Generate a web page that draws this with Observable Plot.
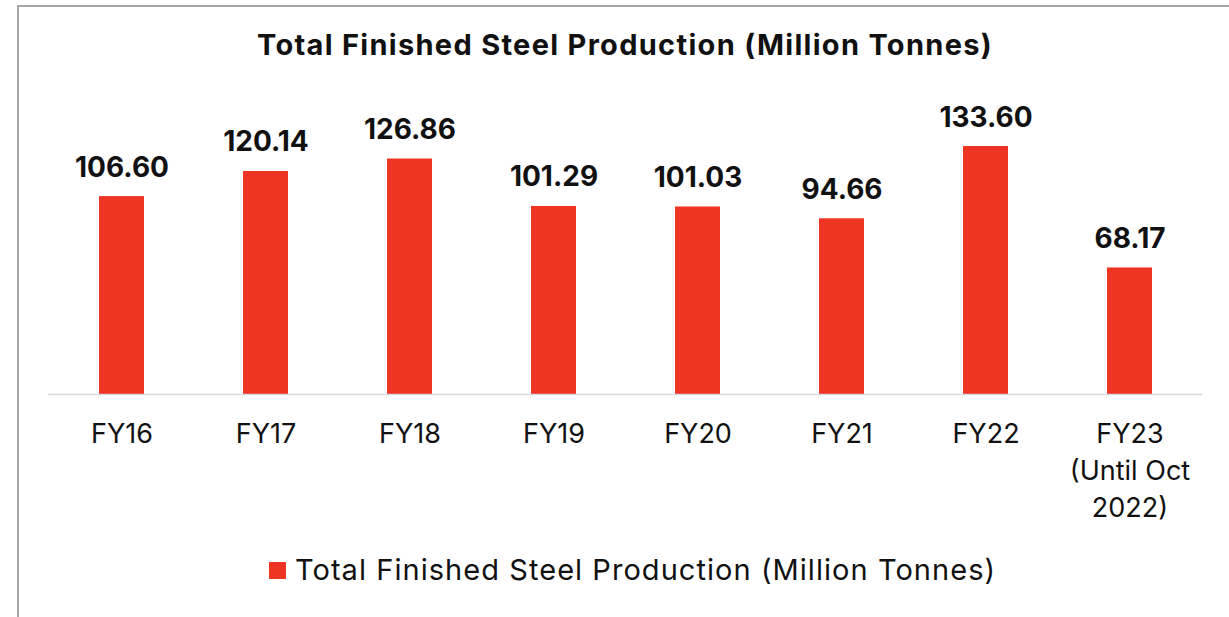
<!DOCTYPE html>
<html>
<head>
<meta charset="utf-8">
<script src="https://cdn.jsdelivr.net/npm/d3@7"></script>
<script src="https://cdn.jsdelivr.net/npm/@observablehq/plot@0.6"></script>
<style>
  html, body { margin: 0; padding: 0; background: #fff; width: 1229px; height: 617px; overflow: hidden; font-family: Inter, "Open Sans", sans-serif; }
  #frame { position: absolute; left: 17px; top: 5px; width: 1300px; height: 700px; border: 2px solid #a6a6a6; box-sizing: border-box; }
  #title { position: absolute; left: 0; top: 27px; width: 1250px; text-align: center; font-weight: 700; font-size: 29px; letter-spacing: 1.3px; color: #111; line-height: 36px; }
  #chart { position: absolute; left: 0; top: 80px; }
  #legend { position: absolute; left: 269px; top: 552px; display: flex; align-items: center; font-size: 29px; letter-spacing: 1.05px; color: #111; line-height: 36px; }
  #legend .sw { width: 17px; height: 17px; background: #ee3524; margin-right: 9px; }
</style>
</head>
<body>
<div id="frame"></div>
<div id="title">Total Finished Steel Production (Million Tonnes)</div>
<div id="chart"></div>
<div id="legend"><div class="sw"></div><span>Total Finished Steel Production (Million Tonnes)</span></div>
<script>
const categories = ["FY16", "FY17", "FY18", "FY19", "FY20", "FY21", "FY22", "FY23\n(Until Oct\n2022)"];
const values = [106.60, 120.14, 126.86, 101.29, 101.03, 94.66, 133.60, 68.17];
const valueLabels = ["106.60", "120.14", "126.86", "101.29", "101.03", "94.66", "133.60", "68.17"];

const data = categories.map((c, i) => ({cat: c, value: values[i], label: valueLabels[i]}));
const red = "#ee3524";

const chart = Plot.plot({
  width: 1229,
  height: 450,
  marginLeft: 48,
  marginRight: 27,
  marginTop: 17,
  marginBottom: 136,
  style: {fontFamily: "Inter, 'Open Sans', sans-serif", background: "transparent", overflow: "visible"},
  x: {domain: categories, paddingInner: 0.688, paddingOuter: 0.344, label: null},
  y: {domain: [0, 160], axis: null},
  marks: [
    Plot.barY(data, {x: "cat", y: "value", fill: red}),
    Plot.ruleY([0], {stroke: "#d9d9d9", strokeWidth: 1.5}),
    Plot.text(data, {x: "cat", y: "value", text: "label", dy: -20, lineAnchor: "bottom", fontSize: 28, fontWeight: 700, fill: "#111"}),
    Plot.axisX({tickSize: 0, tickPadding: 22, fontSize: 27, lineHeight: 1.38, color: "#111", label: null})
  ]
});
document.getElementById("chart").appendChild(chart);
</script>
</body>
</html>
